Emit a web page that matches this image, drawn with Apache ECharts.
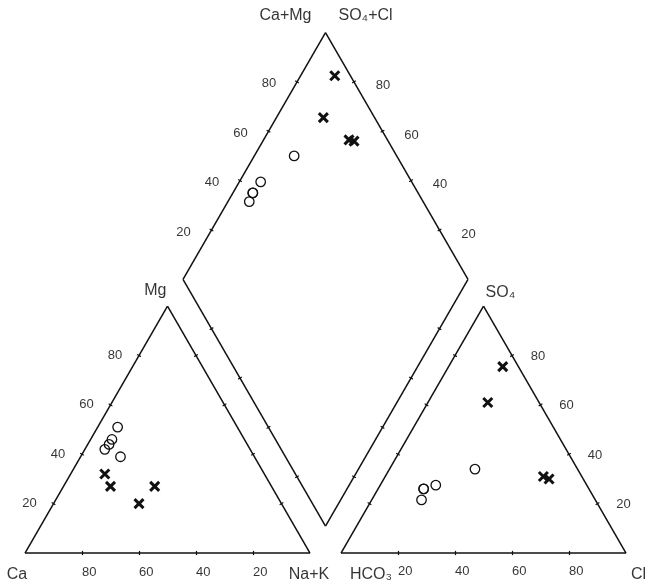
<!DOCTYPE html>
<html>
<head>
<meta charset="utf-8">
<script src="https://cdn.jsdelivr.net/npm/echarts@6/dist/echarts.min.js"></script>
<style>
  html, body { margin: 0; padding: 0; background: #fff; }
  #chart { width: 648px; height: 586px; }
</style>
</head>
<body>
<div id="chart"></div>
<script>
// Piper diagram: cation triangle, anion triangle and the central diamond.

// Percent tick values shown along the edges
const tickValues = [20, 40, 60, 80];

// Group 1 samples (open circles), meq %
const circleCa   = [42, 46.5, 48.5, 51, 47];
const circleMg   = [51, 46, 44, 42, 39];
const circleNaK  = [7, 7.5, 7.5, 7, 14];
const circleHCO3 = [58, 53, 61, 58, 36];
const circleSO4  = [26, 27.5, 21.5, 26, 34];
const circleCl   = [16, 19.5, 17.5, 16, 30];

// Group 2 samples (crosses), meq %
const crossCa   = [56, 56.5, 41, 50];
const crossMg   = [32, 27, 27, 20];
const crossNaK  = [12, 16.5, 32, 30];
const crossHCO3 = [5.5, 18, 12, 13.5];
const crossSO4  = [75.5, 61, 30, 31];
const crossCl   = [19, 21, 58, 55.5];

// ---- layout in diagram units (triangle side = 100) ----
const GAP = 10.88;            // gap between the two triangles
const H = Math.sqrt(3) / 2;
const PX = 2.85;              // pixels per unit
const ORIGIN_X = 25, ORIGIN_Y = 553, W = 648, HT = 586;

function cationXY(ca, mg, nak) {
  const s = ca + mg + nak;
  const m = mg / s * 100, n = nak / s * 100;
  return [n + m / 2, m * H];
}
function anionXY(hco3, so4, cl) {
  const s = hco3 + so4 + cl;
  const so = so4 / s * 100, c = cl / s * 100;
  return [100 + GAP + c + so / 2, so * H];
}
function diamondXY(nak, hco3) {
  return [(nak + 200 + GAP - hco3) / 2, (200 + GAP - hco3 - nak) * H];
}

// corners
const caC = cationXY(100, 0, 0), nakC = cationXY(0, 0, 100), mgC = cationXY(0, 100, 0);
const hcoC = anionXY(100, 0, 0), clC = anionXY(0, 0, 100), so4C = anionXY(0, 100, 0);
const dB = diamondXY(100, 100), dL = diamondXY(0, 100), dT = diamondXY(0, 0), dR = diamondXY(100, 0);

const edges = [
  [caC, nakC], [nakC, mgC], [mgC, caC],
  [hcoC, clC], [clC, so4C], [so4C, hcoC],
  [dB, dL], [dL, dT], [dT, dR], [dR, dB]
];

// frame segments
const edgeData = edges.map(e => ({ coords: [e[0], e[1]] }));

// small tick marks across every edge
const TICK = 0.75;
const tickData = [];
edges.forEach(([p, q]) => {
  const dx = q[0] - p[0], dy = q[1] - p[1];
  const len = Math.hypot(dx, dy);
  const nx = -dy / len * TICK, ny = dx / len * TICK;
  tickValues.forEach(v => {
    const t = v / 100;
    const cx = p[0] + dx * t, cy = p[1] + dy * t;
    tickData.push({ coords: [[cx - nx, cy - ny], [cx + nx, cy + ny]] });
  });
});

// tick labels
const tickLabelData = [];
tickValues.forEach(v => {
  // Ca along the cation base
  tickLabelData.push({ value: cationXY(v, 0, 100 - v), name: String(v), label: { align: 'left', offset: [0, 19] } });
  // Mg along the cation left edge
  tickLabelData.push({ value: cationXY(100 - v, v, 0), name: String(v), label: { align: 'center', offset: [-24, 0] } });
  // Cl along the anion base
  tickLabelData.push({ value: anionXY(100 - v, 0, v), name: String(v), label: { align: 'left', offset: [0, 18] } });
  // SO4 along the anion right edge
  tickLabelData.push({ value: anionXY(0, v, 100 - v), name: String(v), label: { align: 'center', offset: [26, 1] } });
  // Ca+Mg along the diamond upper-left edge
  tickLabelData.push({ value: diamondXY(0, 100 - v), name: String(v), label: { align: 'center', offset: [-28, 2] } });
  // SO4+Cl along the diamond upper-right edge
  tickLabelData.push({ value: diamondXY(100 - v, 0), name: String(v), label: { align: 'center', offset: [29, 4] } });
});

// axis titles
const titleData = [
  { value: caC,  name: 'Ca',     label: { align: 'center', offset: [-8, 22] } },
  { value: nakC, name: 'Na+K',   label: { align: 'center', offset: [-1, 22] } },
  { value: mgC,  name: 'Mg',     label: { align: 'right',  offset: [-1, -16] } },
  { value: hcoC, name: 'HCO\u2083', label: { align: 'left', offset: [9, 22] } },
  { value: clC,  name: 'Cl',     label: { align: 'left',   offset: [5, 22] } },
  { value: so4C, name: 'SO\u2084', label: { align: 'left', offset: [2, -14] } },
  { value: dT,   name: 'Ca+Mg',  label: { align: 'right',  offset: [-14, -17] } },
  { value: dT,   name: 'SO\u2084+Cl', label: { align: 'left', offset: [13, -17] } }
];

// sample positions in all three fields
function samplePoints(ca, mg, nak, hco3, so4, cl) {
  const pts = [];
  for (let i = 0; i < ca.length; i++) {
    const s1 = ca[i] + mg[i] + nak[i];
    const s2 = hco3[i] + so4[i] + cl[i];
    pts.push(cationXY(ca[i], mg[i], nak[i]));
    pts.push(anionXY(hco3[i], so4[i], cl[i]));
    pts.push(diamondXY(nak[i] / s1 * 100, hco3[i] / s2 * 100));
  }
  return pts;
}
const circlePts = samplePoints(circleCa, circleMg, circleNaK, circleHCO3, circleSO4, circleCl);
const crossPts = samplePoints(crossCa, crossMg, crossNaK, crossHCO3, crossSO4, crossCl);

const INK = '#111';
const TEXT = '#000';
const FONT = "'Liberation Sans', Arial, 'DejaVu Sans', sans-serif";

const chart = echarts.init(document.getElementById('chart'), null, { renderer: 'canvas' });
chart.setOption({
  animation: false,
  backgroundColor: '#fff',
  grid: { left: 0, right: 0, top: 0, bottom: 0 },
  xAxis: { type: 'value', min: -ORIGIN_X / PX, max: (W - ORIGIN_X) / PX, show: false },
  yAxis: { type: 'value', min: -(HT - ORIGIN_Y) / PX, max: ORIGIN_Y / PX, show: false },
  series: [
    {
      type: 'lines', coordinateSystem: 'cartesian2d', silent: true,
      lineStyle: { color: INK, width: 1.5, opacity: 1 },
      data: edgeData
    },
    {
      type: 'lines', coordinateSystem: 'cartesian2d', silent: true,
      lineStyle: { color: INK, width: 1.2, opacity: 1 },
      data: tickData
    },
    {
      type: 'scatter', silent: true,
      symbol: 'circle', symbolSize: 9.5,
      itemStyle: { color: 'rgba(0,0,0,0)', borderColor: INK, borderWidth: 1.3, opacity: 1 },
      data: circlePts
    },
    {
      type: 'scatter', silent: true,
      symbol: 'path://M0,0L10,10M10,0L0,10', symbolSize: 9,
      itemStyle: { color: 'rgba(0,0,0,0)', borderColor: INK, borderWidth: 3, opacity: 1 },
      data: crossPts
    },
    {
      type: 'scatter', silent: true, symbolSize: 0,
      itemStyle: { color: 'rgba(0,0,0,0)' },
      label: {
        show: true, position: [0, 0], verticalAlign: 'middle', formatter: '{b}',
        color: TEXT, fontSize: 13, fontFamily: FONT
      },
      data: tickLabelData
    },
    {
      type: 'scatter', silent: true, symbolSize: 0,
      itemStyle: { color: 'rgba(0,0,0,0)' },
      label: {
        show: true, position: [0, 0], verticalAlign: 'middle', formatter: '{b}',
        color: TEXT, fontSize: 16, fontFamily: FONT
      },
      data: titleData
    }
  ]
});
</script>
</body>
</html>
